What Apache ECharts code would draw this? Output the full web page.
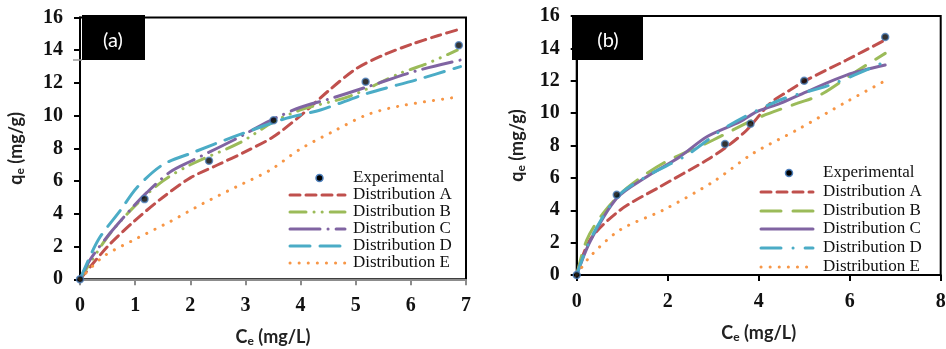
<!DOCTYPE html>
<html><head><meta charset="utf-8">
<script src="https://cdn.jsdelivr.net/npm/echarts@6/dist/echarts.min.js"></script>
<style>html,body{margin:0;padding:0;background:#fff}#c{width:946px;height:349px}</style>
</head><body><div id="c"></div>
<script>
// ---------- data: panel (a) ----------
const aXTicks = [0,1,2,3,4,5,6,7];
const aYTicks = [0,2,4,6,8,10,12,14,16];
const aExperimental = [[0,0],[1.17,4.9],[2.34,7.25],[3.51,9.72],[5.18,12.07],[6.87,14.3]];
const aDistA = [[0,0],[0.5,2.0],[1,3.6],[1.5,5.0],[2,6.2],[2.5,7.0],[3,7.8],[3.5,8.7],[4,10.0],[4.5,11.5],[5,12.85],[5.5,13.7],[6,14.35],[6.5,14.9],[6.9,15.3]];
const aDistB = [[0,0],[0.5,2.6],[1,4.5],[1.5,6.0],[2.0,7.0],[2.9,8.35],[3.5,9.6],[4.0,10.35],[4.9,11.2],[5.81,12.6],[6.23,13.1],[6.84,14.0]];
const aDistC = [[0,0],[0.18,1.18],[0.54,2.8],[0.94,4.35],[1.21,5.3],[1.63,6.55],[2.0,7.2],[2.78,8.5],[3.45,9.7],[3.99,10.5],[4.5,11.0],[5.2,11.75],[6.11,12.75],[6.9,13.4]];
const aDistD = [[0,0],[0.33,2.4],[0.73,4.2],[1.03,5.6],[1.5,7.0],[2.05,7.75],[2.78,8.7],[3.75,9.85],[4.36,10.35],[5.2,11.35],[6.11,12.2],[6.9,13.0]];
const aDistE = [[0,0],[0.42,1.38],[1.03,2.5],[1.63,3.52],[2.24,4.65],[2.84,5.66],[3.45,6.68],[3.99,7.95],[4.6,9.05],[5.2,10.05],[5.81,10.6],[6.87,11.15]];
// ---------- data: panel (b) ----------
const bXTicks = [0,2,4,6,8];
const bYTicks = [0,2,4,6,8,10,12,14,16];
const bExperimental = [[0,0],[0.88,4.95],[3.26,8.1],[3.82,9.35],[5.0,12.0],[6.78,14.7]];
const bDistA = [[0,0],[0.29,2.16],[0.95,4.0],[1.83,5.45],[2.86,7.1],[3.3,7.93],[3.74,8.96],[4.25,10.6],[4.69,11.43],[5.05,12.04],[5.93,13.28],[6.78,14.52]];
const bDistB = [[0,0],[0.22,2.16],[0.58,3.81],[1.1,5.36],[1.9,6.9],[3.0,8.34],[3.96,9.68],[4.84,10.6],[5.35,11.12],[6.08,12.46],[6.78,13.69]];
const bDistC = [[0,0],[0.3,2.1],[0.88,4.74],[1.54,6.07],[2.27,7.31],[2.86,8.54],[3.59,9.47],[3.96,10.09],[4.47,10.6],[5.05,11.32],[5.93,12.35],[6.78,12.97]];
const bDistD = [[0,0],[0.3,2.2],[0.88,4.8],[1.54,6.1],[2.42,7.41],[3.3,9.16],[4.47,10.81],[5.57,11.74],[6.78,13.18]];
const bDistE = [[0,0],[0.29,1.13],[0.95,2.78],[1.9,4.01],[3.0,5.76],[3.88,7.52],[4.84,8.96],[5.93,10.7],[6.74,11.94]];
const legendNames = ['Experimental','Distribution A','Distribution B','Distribution C','Distribution D','Distribution E'];

// ---------- styles ----------
const COL = {A:'#C0504D', B:'#9BBB59', C:'#8064A2', D:'#4BACC6', E:'#F79646'};
const W = 3;
const dashA = {A:[10,6], B:[16,8,0.1,8,0.1,8], C:[30,8,0.1,8], D:[20,10], E:[0.1,9]};
const dashB = {A:[10,6], B:[20,12], C:'solid', D:[20,12,0.1,12], E:[0.1,9]};
const SERIF = '"Liberation Serif","Times New Roman",serif';
const SANS = 'Lato,"Liberation Sans",sans-serif';

function lineSeries(name, data, key, dash, idx){
  return {type:'line', name, data, xAxisIndex:idx, yAxisIndex:idx, smooth:0.3, showSymbol:false, symbol:'none',
    lineStyle:{color:COL[key], width:W, type:dash[key], cap:'round'}, z:2};
}
function expSeries(data, idx){
  return {type:'scatter', name:'Experimental', data, xAxisIndex:idx, yAxisIndex:idx, symbol:'circle', symbolSize:7,
    itemStyle:{color:'#000', borderColor:'#4F81BD', borderWidth:1.5}, z:5};
}
const richName = {
  n:{fontFamily:SANS, fontSize:18, fontWeight:'bold', color:'#222'},
  s:{fontFamily:SANS, fontSize:12, fontWeight:'bold', color:'#222', padding:[8,0,0,0]}
};
function xAxis(idx, ticks, max, interval, lineColor){
  return {type:'value', gridIndex:idx, min:0, max, interval,
    name:'{n|C}{s|e}{n| (mg/L)}', nameLocation:'middle', nameGap:48, nameTextStyle:{rich:richName},
    axisLine:{show:true, onZero:false, lineStyle:{color:lineColor, width:2}},
    axisTick:{show:true, inside:false, length:6, lineStyle:{color:lineColor, width:2}},
    axisLabel:{fontFamily:SERIF, fontWeight:'bold', fontSize:20, color:'#111', margin:17,
      formatter:v=>ticks.includes(v)?String(v):''},
    splitLine:{show:false}};
}
function yAxis(idx, ticks, nameGap){
  return {type:'value', gridIndex:idx, min:0, max:16, interval:2,
    name:'{n|q}{s|e}{n| (mg/g)}', nameLocation:'middle', nameGap, nameRotate:90, nameTextStyle:{rich:richName},
    axisLine:{show:true, onZero:false, lineStyle:{color:'#000', width:2}},
    axisTick:{show:true, inside:false, length:6, lineStyle:{color:'#000', width:2}},
    axisLabel:{fontFamily:SERIF, fontWeight:'bold', fontSize:20, color:'#111', margin:17,
      formatter:v=>ticks.includes(v)?String(v):''},
    splitLine:{show:false}};
}

// legend built as graphic (per panel styles differ)
function legendGraphic(x0, x1, tx, rows, dash){
  const els = [];
  const keys = ['A','B','C','D','E'];
  legendNames.forEach((nm,i)=>{
    const y = rows[i];
    if(i===0){
      els.push({type:'circle', shape:{cx:(x0+x1)/2+2, cy:y, r:3.5}, style:{fill:'#000', stroke:'#4F81BD', lineWidth:1.5}, z:10});
    } else {
      const k = keys[i-1];
      const d = dash[k];
      els.push({type:'line', shape:{x1:x0, y1:y, x2:x1, y2:y},
        style:{stroke:COL[k], lineWidth:W, lineDash: d==='solid'?null:d, lineCap:'round'}, z:10});
    }
    els.push({type:'text', x:tx, y:y, style:{text:nm, fill:'#111', font:'17px '+SERIF, textVerticalAlign:'middle', textAlign:'left'}, z:10});
  });
  return els;
}

const chart = echarts.init(document.getElementById('c'), null, {renderer:'canvas'});
const option = {
  animation:false,
  backgroundColor:'#fff',
  grid:[
    {left:80, top:17.5, width:386, height:261.8, containLabel:false, outerBoundsMode:'none', show:true, borderColor:'#000', borderWidth:2, backgroundColor:'transparent'},
    {left:576.7, top:16, width:364, height:259, containLabel:false, outerBoundsMode:'none', show:true, borderColor:'#000', borderWidth:2, backgroundColor:'transparent'}
  ],
  xAxis:[ xAxis(0, aXTicks, 7, 1, '#8c8c8c'), xAxis(1, bXTicks, 8, 2, '#000') ],
  yAxis:[ yAxis(0, aYTicks, 54), yAxis(1, bYTicks, 50) ],
  series:[
    lineSeries('Distribution A', aDistA, 'A', dashA, 0),
    lineSeries('Distribution B', aDistB, 'B', dashA, 0),
    lineSeries('Distribution C', aDistC, 'C', dashA, 0),
    lineSeries('Distribution D', aDistD, 'D', dashA, 0),
    lineSeries('Distribution E', aDistE, 'E', dashA, 0),
    expSeries(aExperimental, 0),
    lineSeries('Distribution A', bDistA, 'A', dashB, 1),
    lineSeries('Distribution B', bDistB, 'B', dashB, 1),
    lineSeries('Distribution C', bDistC, 'C', dashB, 1),
    lineSeries('Distribution D', bDistD, 'D', dashB, 1),
    lineSeries('Distribution E', bDistE, 'E', dashB, 1),
    expSeries(bExperimental, 1)
  ],
  graphic:[
    {type:'rect', shape:{x:82, y:15, width:63, height:45}, style:{fill:'#000'}, z:20},
    {type:'text', x:113, y:41, style:{text:'(a)', fill:'#fff', font:'20px '+SANS, textAlign:'center', textVerticalAlign:'middle'}, z:21},
    {type:'line', shape:{x1:73, y1:60, x2:82, y2:60}, style:{stroke:'#999', lineWidth:1.5}, z:21},
    {type:'rect', shape:{x:572, y:16, width:71, height:44}, style:{fill:'#000'}, z:20},
    {type:'text', x:608, y:41, style:{text:'(b)', fill:'#fff', font:'20px '+SANS, textAlign:'center', textVerticalAlign:'middle'}, z:21},
    ...legendGraphic(290, 345, 353, [178,195,212,229,246,263], dashA),
    ...legendGraphic(761, 813, 823, [173,192,211,229,248,267], dashB)
  ]
};
chart.setOption(option);
</script></body></html>
